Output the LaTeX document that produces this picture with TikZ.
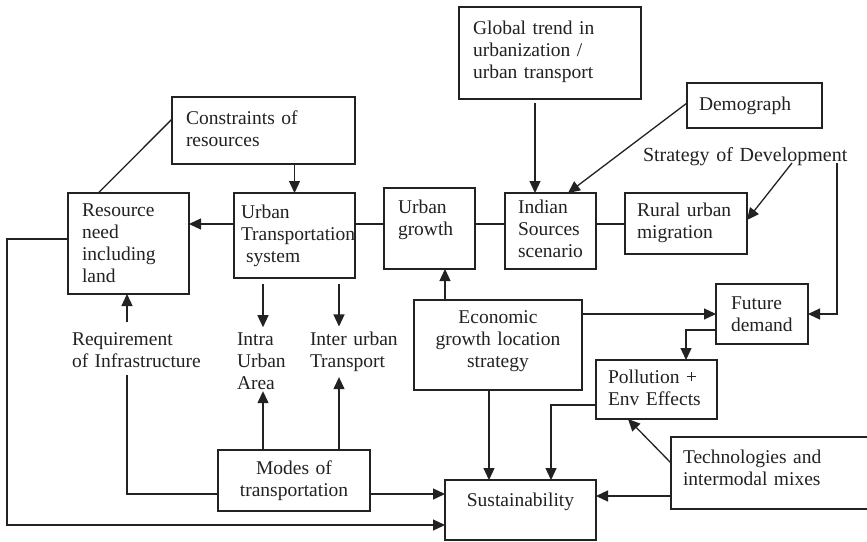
\documentclass[tikz,border=0pt]{standalone}
\usepackage{fontspec}
\setmainfont{Liberation Serif}
\usetikzlibrary{arrows.meta,calc}
\definecolor{ink}{HTML}{222222}
\newcommand\lowstrut[1]{\rule[-#1]{0pt}{#1}}
\newcommand\diafont{\fontsize{19.5}{22}\selectfont}
\hyphenpenalty=10000
\exhyphenpenalty=10000
\begin{document}
\begin{tikzpicture}[x=1pt,y=-1pt,
  box/.style={draw=ink, text=ink, line width=1.3pt, rectangle, inner ysep=0pt, outer sep=0pt, anchor=north west, font=\diafont},
  lbox/.style={box, align=left},
  cbox/.style={box, align=center},
  arr/.style={draw=ink, line width=1.3pt, -{Triangle[length=12pt,width=11pt]}},
  ln/.style={draw=ink, line width=1.3pt},
  txt/.style={text=ink, inner sep=0pt, outer sep=0pt, anchor=base west, align=left, font=\diafont}]
\useasboundingbox (0,0) rectangle (867,541);
\fill[white] (0,0) rectangle (867,541);
\clip (0,0) rectangle (867,541);

% boxes
\node[lbox, minimum height=67pt, inner xsep=14pt, text width=155pt] (cons) at (172,97) {Constraints of\\resources\lowstrut{4.3pt}};
\node[lbox, minimum height=101pt, inner xsep=14pt, text width=93pt] (res) at (68,193) {Resource\\need\\including\\land};
\node[lbox, minimum height=85pt, inner xsep=7pt, text width=107pt] (uts) at (234,193) {Urban\\Transportation\\\hspace*{5pt}system};
\node[lbox, minimum height=81pt, inner xsep=14pt, text width=63pt] (ug) at (384,188) {Urban\\growth\lowstrut{22.3pt}};
\node[lbox, minimum height=76pt, inner xsep=13pt, text width=65pt] (ind) at (505,193) {Indian\\Sources\\scenario\lowstrut{5.3pt}};
\node[lbox, minimum height=61pt, inner xsep=12pt, text width=98pt] (rur) at (625,193) {Rural urban\\migration\lowstrut{6.3pt}};
\node[lbox, minimum height=92pt, inner xsep=14pt, text width=154pt] (glob) at (459,7) {Global trend in\\urbanization /\\urban transport\lowstrut{7.3pt}};
\node[lbox, minimum height=45pt, inner xsep=12pt, text width=111pt] (demo) at (687,83) {Demograph};
\node[cbox, minimum height=90pt, inner xsep=6pt, text width=156pt] (econ) at (414,300) {Economic\\growth location\\strategy\lowstrut{11.3pt}};
\node[lbox, minimum height=60pt, inner xsep=15pt, text width=62pt] (fut) at (716,284) {Future\\demand};
\node[lbox, minimum height=59pt, inner xsep=12pt, text width=97pt] (pol) at (596,360) {Pollution +\\Env Effects\lowstrut{4.3pt}};
\node[lbox, minimum height=72pt, inner xsep=12pt, text width=176pt] (tech) at (671,437) {Technologies and\\intermodal mixes\lowstrut{11.3pt}};
\node[cbox, minimum height=60pt, inner xsep=6pt, text width=139pt] (sus) at (445,480) {Sustainability\lowstrut{21.3pt}};
\node[cbox, minimum height=61pt, inner xsep=6pt, text width=140pt] (modes) at (218,450) {Modes of\\transportation};

% free texts
\node[txt, text width=150pt] (req) at (72,345) {Requirement\\of Infrastructure};
\node[txt, text width=60pt] (intra) at (237,345) {Intra\\Urban\\Area};
\node[txt, text width=100pt] (inter) at (310,345) {Inter urban\\Transport};
\node[txt, text width=220pt, font=\fontsize{20}{22}\selectfont] (strat) at (643,161) {Strategy of Development};

% helper coordinates
\coordinate (rowA) at (0,224);
\coordinate (rowM) at (0,494);
\coordinate (rowR) at (0,525);
\coordinate (rowT) at (0,496);
\coordinate (colG) at (535,0);
\coordinate (colU) at (445,0);
\coordinate (colE) at (489,0);
\coordinate (colI) at (263,0);
\coordinate (colJ) at (339,0);
\coordinate (colR) at (127,0);
\coordinate (colL) at (7,0);

% connectors, middle row
\draw[arr] (uts.west |- rowA) -- (res.east |- rowA);
\draw[ln] (uts.east |- rowA) -- (ug.west |- rowA);
\draw[ln] (ug.east |- rowA) -- (ind.west |- rowA);
\draw[ln] (ind.east |- rowA) -- (rur.west |- rowA);

% top part
\draw[arr] (uts.north |- cons.south) -- (uts.north);
\draw[ln] ($(res.north west)!0.25!(res.north east)$) -- ($(cons.north west)!0.33!(cons.south west)$);
\draw[arr, shorten <=4pt] (glob.south -| colG) -- (ind.north -| colG);
\draw[arr] ($(demo.west)+(0,-2.5)$) -- ($(ind.north west)+(63,0)$);
\draw[arr] ($(strat.base west)+(149,2)$) -- ($(rur.east)+(0,-3.5)$);
\draw[arr] ($(strat.base west)+(194,2)$) |- (fut.east);

% economic growth
\draw[arr] (econ.east |- fut.west) -- (fut.west);
\draw[arr] (econ.north -| colU) -- (ug.south -| colU);
\draw[arr] (econ.south -| colE) -- (sus.north -| colE);

% future demand / pollution / technologies
\draw[arr] ($(fut.west)+(0,16)$) -| ($(pol.north west)+(90,0)$);
\draw[arr] ($(pol.west)+(0,15.5)$) -| ($(sus.north west)+(106,0)$);
\draw[arr] ($(tech.west)+(0,-10)$) -- ($(pol.south west)+(32,0)$);
\draw[arr] (tech.west |- rowT) -- (sus.east |- rowT);

% urban transportation system and modes
\draw[arr, shorten <=6pt, shorten >=5pt] (uts.south -| colI) -- (intra.north -| colI);
\draw[arr, shorten <=6pt, shorten >=5pt] (uts.south -| colJ) -- (inter.north -| colJ);
\draw[arr, shorten >=2pt] (modes.north -| colI) -- (intra.south -| colI);
\draw[arr, shorten >=6pt] (modes.north -| colJ) -- (inter.south -| colJ);
\draw[arr] (modes.east |- rowM) -- (sus.west |- rowM);

% requirement of infrastructure
\draw[arr] ($(req.north -| colR)+(0,-10)$) -- (res.south -| colR);
\draw[ln] ($(req.south -| colR)+(0,8)$) |- (modes.west |- rowM);

% resource need loop
\draw[arr] ($(res.west)+(0,-4.5)$) -| (colL |- rowR) -- (sus.west |- rowR);
\end{tikzpicture}
\end{document}
